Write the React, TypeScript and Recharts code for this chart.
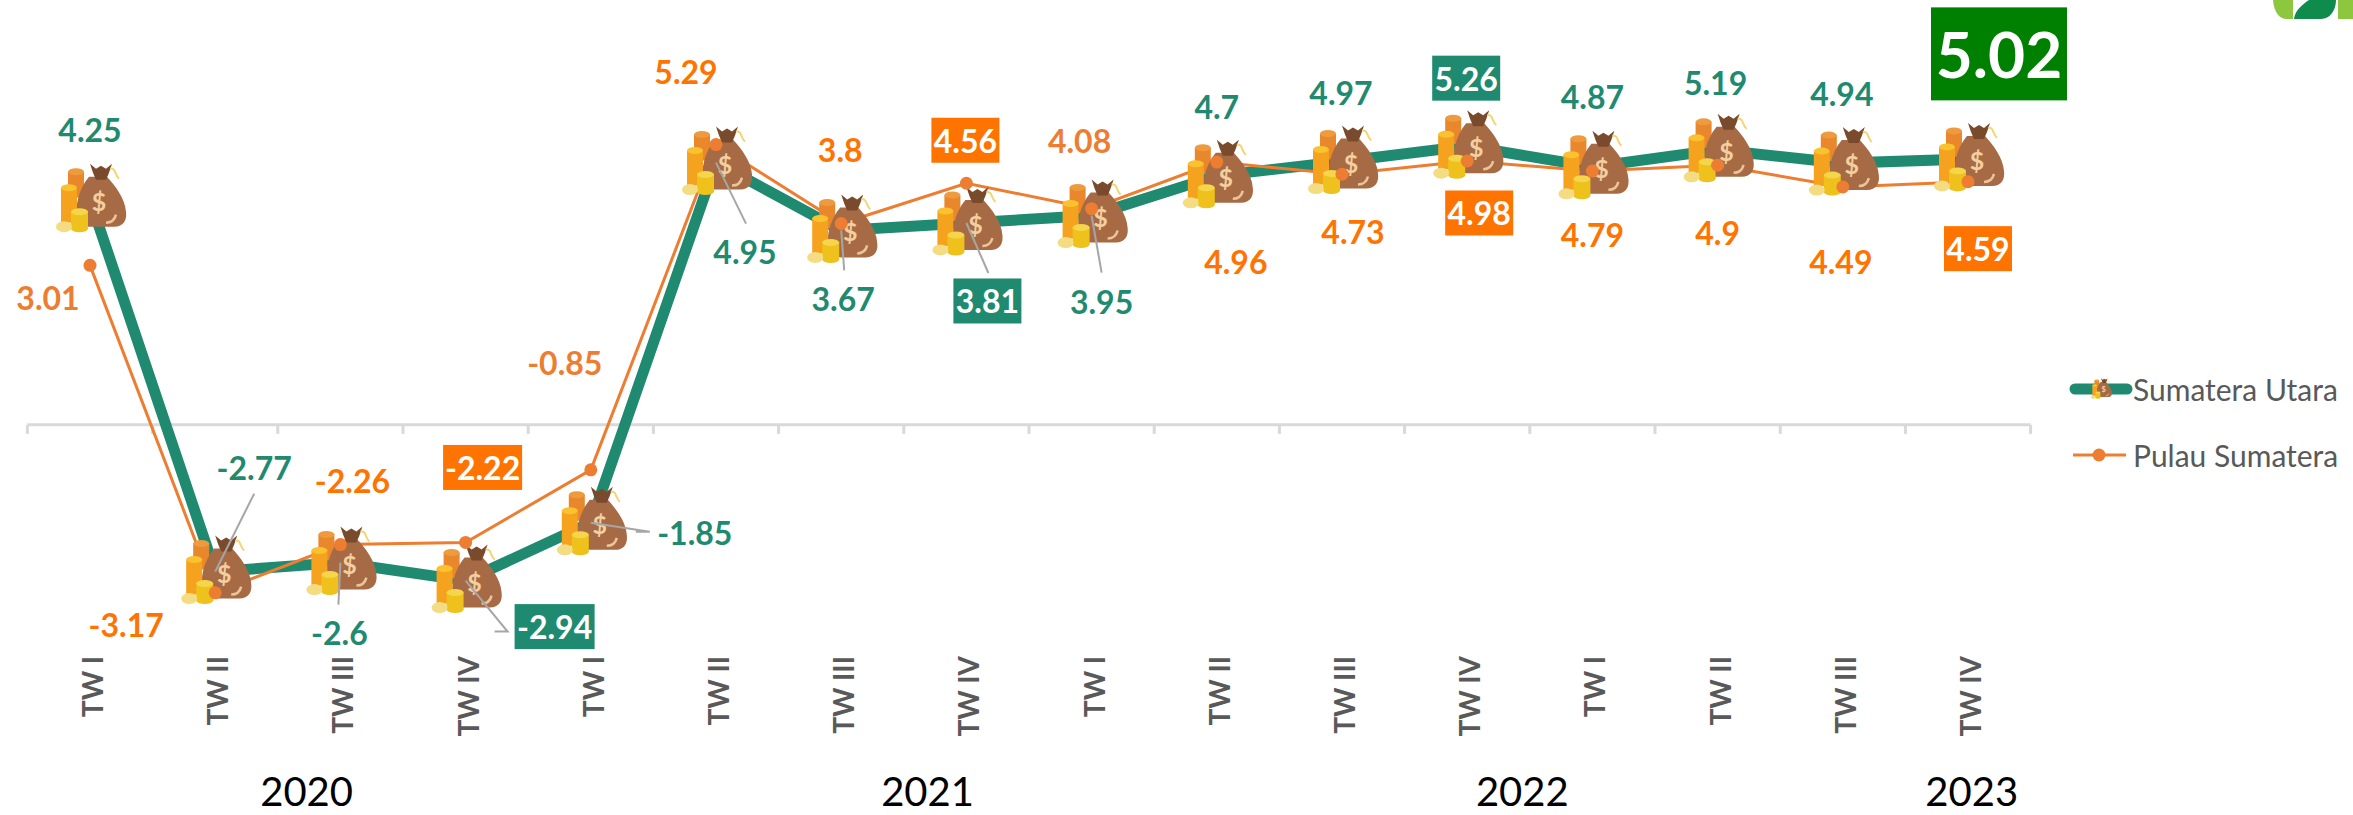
import React from 'react';
import { LineChart, Line, XAxis, YAxis, ReferenceLine, LabelList, Legend } from 'recharts';

const QUARTERS = ['TW I', 'TW II', 'TW III', 'TW IV', 'TW I', 'TW II', 'TW III', 'TW IV', 'TW I', 'TW II', 'TW III', 'TW IV', 'TW I', 'TW II', 'TW III', 'TW IV'];
const SUMUT = [4.25, -2.77, -2.6, -2.94, -1.85, 4.95, 3.67, 3.81, 3.95, 4.7, 4.97, 5.26, 4.87, 5.19, 4.94, 5.02];
const PULAU = [3.01, -3.17, -2.26, -2.22, -0.85, 5.29, 3.8, 4.56, 4.08, 4.96, 4.73, 4.98, 4.79, 4.9, 4.49, 4.59];
const YEARS = ['2020', '2021', '2022', '2023'];
// year labels don't sit on the group centres in the source, positions on the quarter scale
const YEAR_TICKS = [1.73, 6.69, 11.44, 15.03];

const chartData = QUARTERS.map((quarter, idx) => ({
  idx,
  quarter,
  sumut: SUMUT[idx],
  pulau: PULAU[idx],
}));

const FONT = 'Lato, Carlito, "Open Sans", sans-serif';
const GREEN = '#1F8A70';
const ORANGE = '#FF7300';
const ORANGE_SOFT = '#ED7D31';
const TOP_BOX = '#008000';
const GREY_TEXT = '#595959';
const LEADER = '#A6A6A6';
const AXIS_LINE = '#D9D9D9';

// label offsets from each point, px
const SUMUT_OFFSETS = [[0, -70], [39, -104], [-1, 70], [89, 46], [104, 10], [29, 89], [2, 68], [21, 78], [10, 86], [0, -69], [-1, -69], [-1, -68], [0, -70], [-2, -67], [-1, -70], [31, -105]];
const PULAU_OFFSETS = [[-42, 32], [-89, 32], [12, -64], [17, -75], [-26, -107], [-30, -73], [-1, -74], [-1, -43], [-12, -68], [19, 99], [11, 57], [12, 52], [0, 63], [0, 67], [-2, 75], [10, 67]];

// grey leader lines, polyline from the point outwards
const SUMUT_LEADERS: Record<number, number[][]> = {
  1: [[39, -78]],
  2: [[-2, 42]],
  3: [[42, 51], [29, 51]],
  4: [[59, 9], [45, 9]],
  5: [[30, 61]],
  6: [[3, 40]],
  7: [[22, 50]],
  8: [[10, 57]],
};

const SUMUT_BOXED = [3, 7, 11];
const PULAU_BOXED = [3, 7, 11, 15];
const PULAU_SOFT = [0, 4, 8];

const MoneyBag = ({ cx, cy, s = 1 }: { cx: number; cy: number; s?: number }) => (
  <g transform={`translate(${cx} ${cy}) scale(${s})`}>
    <rect x={-22} y={-28} width={16} height={26} fill="#E8872B" />
    <ellipse cx={-14} cy={-28} rx={8} ry={3.5} fill="#EE9A3E" />
    <path d="M-1 -23 C-12 -10 -15 8 -13 19 C-12 27 -5 27 3 27 L24 27 C34 27 37 20 36 12 C35 -2 25 -14 17 -23 Z" fill="#A66B45" />
    <path d="M0 -36 L6 -31 L11 -34 L16 -31 L22 -36 L19 -27 L16 -20 L6 -20 L3 -27 Z" fill="#7A4A2C" />
    <path d="M20 -31 C26 -32 24 -26 29 -21" stroke="#F2D675" strokeWidth={2} fill="none" />
    <text x={9} y={1} textAnchor="middle" dominantBaseline="central" fontFamily={FONT} fontSize={25} fontWeight={700} fill="#F3CFA0">$</text>
    <path d="M16 23 Q24 23 26 15" stroke="#EBC49A" strokeWidth={2.5} fill="none" />
    <rect x={-29} y={-12} width={16} height={35} fill="#F5A21F" />
    <ellipse cx={-21} cy={-12} rx={8} ry={3.5} fill="#F9C22E" />
    <rect x={-19} y={12} width={17} height={17} fill="#EEC11C" />
    <ellipse cx={-10.5} cy={29} rx={8.5} ry={3.5} fill="#EEC11C" />
    <ellipse cx={-10.5} cy={12} rx={8.5} ry={3.5} fill="#F5D64A" />
    <ellipse cx={-26} cy={27} rx={8} ry={5.5} fill="#F3DC82" />
  </g>
);

const SumutLabel = (props: any) => {
  const { index, value } = props;
  const px = props.x ?? props.viewBox?.x;
  const py = props.y ?? props.viewBox?.y;
  const [dx, dy] = SUMUT_OFFSETS[index];
  const big = index === 15;
  const boxed = SUMUT_BOXED.includes(index);
  const leader = SUMUT_LEADERS[index];
  const w = big ? 136 : String(value).startsWith('-') ? 80 : 68;
  const h = big ? 93 : 45;
  return (
    <g>
      {leader && (
        <polyline
          points={[[0, 0], ...leader].map(([a, b]) => `${px + a},${py + b}`).join(' ')}
          fill="none"
          stroke={LEADER}
          strokeWidth={2}
        />
      )}
      {(boxed || big) && <rect x={px + dx - w / 2} y={py + dy - h / 2} width={w} height={h} fill={big ? TOP_BOX : GREEN} />}
      <text
        x={px + dx}
        y={py + dy}
        textAnchor="middle"
        dominantBaseline="central"
        fontFamily={FONT}
        fontWeight={700}
        fontSize={big ? 64 : 32}
        fill={boxed || big ? '#FFFFFF' : GREEN}
      >
        {value}
      </text>
    </g>
  );
};

const PulauLabel = (props: any) => {
  const { index, value } = props;
  const px = props.x ?? props.viewBox?.x;
  const py = props.y ?? props.viewBox?.y;
  const [dx, dy] = PULAU_OFFSETS[index];
  const boxed = PULAU_BOXED.includes(index);
  const w = String(value).startsWith('-') ? 79 : 68;
  return (
    <g>
      {boxed && <rect x={px + dx - w / 2} y={py + dy - 22.5} width={w} height={45} fill={ORANGE} />}
      <text
        x={px + dx}
        y={py + dy}
        textAnchor="middle"
        dominantBaseline="central"
        fontFamily={FONT}
        fontWeight={700}
        fontSize={32}
        fill={boxed ? '#FFFFFF' : PULAU_SOFT.includes(index) ? ORANGE_SOFT : ORANGE}
      >
        {value}
      </text>
    </g>
  );
};

const QuarterTick = ({ x, y, payload }: any) => (
  <text
    x={x + 2}
    y={y}
    transform={`rotate(-90 ${x + 2} ${y})`}
    textAnchor="end"
    dominantBaseline="central"
    fontFamily={FONT}
    fontSize={28}
    fontWeight={700}
    fill={GREY_TEXT}
  >
    {QUARTERS[payload.value]}
  </text>
);

const YearTick = ({ x, y, index }: any) => (
  <text x={x} y={y} textAnchor="middle" dominantBaseline="central" fontFamily={FONT} fontSize={40} fill="#000000">
    {YEARS[index]}
  </text>
);

const LegendContent = () => (
  <div style={{ fontFamily: FONT, fontSize: 30, color: GREY_TEXT, lineHeight: '66px', whiteSpace: 'nowrap' }}>
    <div style={{ display: 'flex', alignItems: 'center', height: 66 }}>
      <svg width={64} height={40}>
        <line x1={6} y1={20} x2={58} y2={20} stroke={GREEN} strokeWidth={11} strokeLinecap="round" />
        <MoneyBag cx={32} cy={20} s={0.3} />
      </svg>
      <span>Sumatera Utara</span>
    </div>
    <div style={{ display: 'flex', alignItems: 'center', height: 66 }}>
      <svg width={64} height={40}>
        <line x1={4} y1={20} x2={57} y2={20} stroke={ORANGE_SOFT} strokeWidth={3} />
        <circle cx={30} cy={20} r={6.5} fill={ORANGE_SOFT} />
      </svg>
      <span>Pulau Sumatera</span>
    </div>
  </div>
);

export default function App() {
  return (
    <div style={{ position: 'absolute', left: 0, top: 0, width: 2353, height: 815, background: '#fff', overflow: 'hidden' }}>
      <LineChart
        width={2353}
        height={815}
        data={chartData}
        margin={{ top: 1, right: 322.4, bottom: 0, left: 27.4 }}
      >
        <XAxis
          xAxisId={0}
          dataKey="idx"
          type="number"
          domain={[-0.5, 15.5]}
          ticks={chartData.map((d) => d.idx)}
          interval={0}
          axisLine={false}
          tickLine={false}
          tickSize={0}
          tickMargin={6}
          height={120}
          tick={<QuarterTick />}
        />
        <XAxis
          xAxisId="year"
          dataKey="idx"
          type="number"
          domain={[-0.5, 15.5]}
          ticks={YEAR_TICKS}
          interval={0}
          axisLine={false}
          tickLine={false}
          tickSize={0}
          tickMargin={21}
          height={45}
          tick={<YearTick />}
        />
        <YAxis hide domain={[-4.25, 8]} width={0} />
        <ReferenceLine y={0} stroke={AXIS_LINE} strokeWidth={3} />
        {Array.from({ length: QUARTERS.length + 1 }, (_, k) => (
          <ReferenceLine
            key={k}
            segment={[{ x: k - 0.5, y: 0 }, { x: k - 0.5, y: -0.17 }]}
            stroke={AXIS_LINE}
            strokeWidth={3}
          />
        ))}
        <Legend
          layout="horizontal"
          align="center"
          verticalAlign="middle"
          content={<LegendContent />}
          wrapperStyle={{ left: 2069, top: 356, width: 284 }}
        />
        <Line
          name="Sumatera Utara"
          dataKey="sumut"
          stroke={GREEN}
          strokeWidth={11}
          isAnimationActive={false}
          activeDot={false}
          dot={(p: any) => <MoneyBag key={p.index} cx={p.cx} cy={p.cy} />}
        >
          <LabelList dataKey="sumut" content={<SumutLabel />} />
        </Line>
        <Line
          name="Pulau Sumatera"
          dataKey="pulau"
          stroke={ORANGE_SOFT}
          strokeWidth={3}
          isAnimationActive={false}
          activeDot={false}
          dot={{ r: 6.5, fill: ORANGE_SOFT, stroke: ORANGE_SOFT, strokeWidth: 0 }}
        >
          <LabelList dataKey="pulau" content={<PulauLabel />} />
        </Line>
      </LineChart>
      {/* logo corner, cut off by the top edge in the source */}
      <svg style={{ position: 'absolute', left: 2273, top: 0 }} width={80} height={20}>
        <path d="M0 0 H20 V19 H14 C6 19 1 12 0 0 Z" fill="#8DC63F" />
        <path d="M21 19 C22 10 30 4 36 0 H63 C63 10 57 19 48 19 Z" fill="#0F8B4C" />
        <path d="M65 0 H80 V19 H65 Z" fill="#8DC63F" />
      </svg>
    </div>
  );
}
